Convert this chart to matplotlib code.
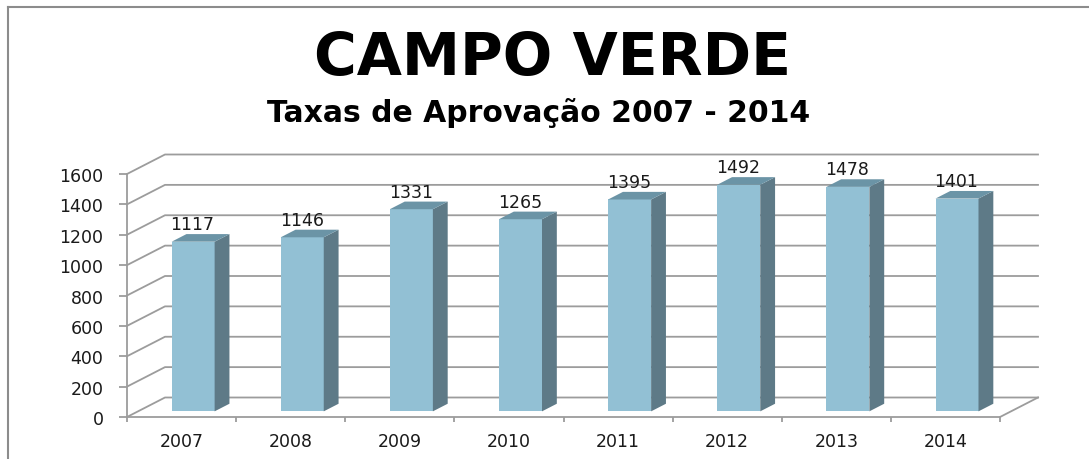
import matplotlib
matplotlib.use("Agg")
import matplotlib.pyplot as plt
from matplotlib.patches import Polygon

anos = ["2007", "2008", "2009", "2010", "2011", "2012", "2013", "2014"]
aprovacao = [1117, 1146, 1331, 1265, 1395, 1492, 1478, 1401]
escala = [0, 200, 400, 600, 800, 1000, 1200, 1400, 1600]

W, H = 1089, 460
GRADE = "#9c9c9c"
FRENTE = "#92c0d4"
LADO = "#5e7a87"
TOPO = "#6b94a6"

fig = plt.figure(figsize=(W / 100, H / 100), dpi=100)
ax = fig.add_axes([127 / W, (H - 418) / H, 873 / W, 243 / H])
ax.set_xlim(0, 8)
ax.set_ylim(0, 1600)

# deslocamento da parede do fundo (efeito 3D), em unidades dos dados
DX = 38 / (873 / 8)
DY = 19.5 * 1600 / 243


def proj(x, y, d):
    return (x + d * DX, y + d * DY)


# grade do fundo e diagonais da parede lateral
for v in escala:
    x0, y0 = proj(0, v, 0)
    x1, y1 = proj(0, v, 1)
    x2, y2 = proj(8, v, 1)
    ax.plot([x0, x1, x2], [y0, y1, y2], color=GRADE, lw=1.3, clip_on=False, zorder=1)
x0, y0 = proj(8, 0, 0)
x1, y1 = proj(8, 0, 1)
ax.plot([x0, x1], [y0, y1], color=GRADE, lw=1.3, clip_on=False, zorder=1)

# barras
LARG = 0.394
D0, D1 = 0.29, 0.68
for i, v in enumerate(aprovacao):
    e = i + 0.5 - LARG / 2 + 0.005
    d = e + LARG
    ax.add_patch(Polygon([proj(e, 0, D0), proj(d, 0, D0), proj(d, v, D0), proj(e, v, D0)],
                         fc=FRENTE, ec="none", clip_on=False, zorder=3))
    ax.add_patch(Polygon([proj(d, 0, D0), proj(d, 0, D1), proj(d, v, D1), proj(d, v, D0)],
                         fc=LADO, ec="none", clip_on=False, zorder=3))
    ax.add_patch(Polygon([proj(e, v, D0), proj(d, v, D0), proj(d, v, D1), proj(e, v, D1)],
                         fc=TOPO, ec="none", clip_on=False, zorder=3))
    tx, ty = proj(i + 0.5, v, D1)
    ax.annotate(str(v), (tx - (D1 - D0) * DX, ty), xytext=(0, 10 * 0.72), textcoords="offset points",
                ha="center", va="center", fontsize=12.5, color="#1a1a1a", zorder=4,
                annotation_clip=False)

# eixos
for s in ["top", "right"]:
    ax.spines[s].set_visible(False)
for s in ["left", "bottom"]:
    ax.spines[s].set_color(GRADE)
    ax.spines[s].set_linewidth(1.3)
ax.set_yticks(escala)
ax.set_xticks(range(9))
ax.set_xticklabels([])
ax.set_xticks([i + 0.5 for i in range(8)], minor=True)
ax.set_xticklabels(anos, minor=True)
ax.tick_params(axis="x", which="major", length=3.5, width=1.3, color=GRADE)
ax.tick_params(axis="x", which="minor", length=0, pad=11, labelsize=12.5, labelcolor="#1a1a1a")
ax.tick_params(axis="y", length=6, width=1.3, color=GRADE, pad=11, labelsize=12.5, labelcolor="#1a1a1a")

# titulos
fig.text(553 / W, 1 - 59 / H, "CAMPO VERDE", ha="center", va="center",
         fontsize=42, fontweight="bold", color="black")
fig.text(539 / W, 1 - 113 / H, "Taxas de Aprovação 2007 - 2014", ha="center", va="center",
         fontsize=21.5, fontweight="bold", color="black")

# moldura
fig.add_artist(plt.Line2D([7.5 / W, 7.5 / W], [0, 1 - 8 / H], color="#8c8c8c", lw=1.5))
fig.add_artist(plt.Line2D([7.5 / W, 1], [1 - 8 / H, 1 - 8 / H], color="#8c8c8c", lw=1.5))

fig.savefig("out.png", dpi=100)
